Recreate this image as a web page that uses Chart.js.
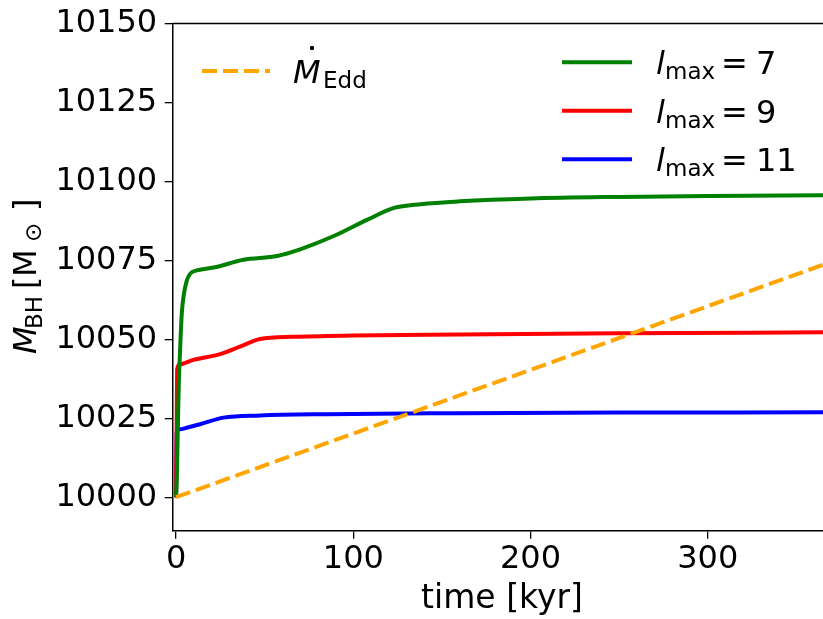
<!DOCTYPE html>
<html lang="en">
<head>
<meta charset="UTF-8" />
<title>Black hole mass growth</title>
<script src="https://cdn.jsdelivr.net/npm/chart.js"></script>
<style>
  html, body { margin: 0; padding: 0; background: #fff; }
  #wrap { width: 823px; height: 619px; }
</style>
</head>
<body>
<div id="wrap"><canvas id="massChart" width="823" height="619"></canvas></div>
<script>
  // time [kyr] and M_BH [Msun]
  const timeEdd = [0, 365];
  const massEdd = [10000, 10073.6];

  const time7 = [0, 0.5, 1, 1.5, 2.3, 3.2, 4.2, 6, 8, 11.7, 22, 38, 57, 70, 89, 108, 123, 138, 160, 200, 250, 300, 365];
  const mass7 = [10000, 10008, 10022, 10035, 10047, 10058, 10063.5, 10068.5, 10070.8, 10071.8, 10072.8, 10075.2, 10076.4, 10078.5, 10082.7, 10087.9, 10091.6, 10092.8, 10093.7, 10094.6, 10095.1, 10095.4, 10095.6];

  const time9 = [0, 0.3, 0.6, 2, 9.8, 24.8, 36, 47.4, 66, 100, 160, 250, 365];
  const mass9 = [10000, 10020, 10040.5, 10042, 10043.5, 10045.3, 10047.7, 10050.1, 10050.8, 10051.2, 10051.5, 10051.9, 10052.2];

  const time11 = [0, 0.3, 2, 6, 13.5, 26.7, 47.4, 85, 160, 250, 365];
  const mass11 = [10000, 10020.5, 10021.5, 10022, 10023.1, 10025.2, 10025.9, 10026.3, 10026.6, 10026.8, 10026.9];

  const xTicks = [0, 100, 200, 300];
  const yTicks = [10000, 10025, 10050, 10075, 10100, 10125, 10150];

  const seriesNames = ['7', '9', '11'];
  const FONT = 'DejaVu Sans';
  const BIG = '32px ' + FONT;
  const SUB = '23px ' + FONT;

  function toPoints(xs, ys) {
    return xs.map((x, i) => ({ x: x, y: ys[i] }));
  }

  // matplotlib-like pieces drawn by hand: top spine, both legends, axis titles
  const decorations = {
    id: 'decorations',
    afterDraw(chart) {
      const ctx = chart.ctx;
      const area = chart.chartArea;
      const ds = chart.data.datasets;
      ctx.save();

      // top spine
      ctx.strokeStyle = '#000';
      ctx.lineWidth = 1.5;
      ctx.beginPath();
      ctx.moveTo(area.left, area.top);
      ctx.lineTo(chart.width, area.top);
      ctx.stroke();

      ctx.fillStyle = '#000';
      ctx.textBaseline = 'alphabetic';
      ctx.textAlign = 'left';

      // Eddington legend (upper left)
      ctx.strokeStyle = ds[0].borderColor;
      ctx.lineWidth = ds[0].borderWidth;
      ctx.setLineDash(ds[0].borderDash);
      ctx.beginPath();
      ctx.moveTo(202, 71);
      ctx.lineTo(270, 71);
      ctx.stroke();
      ctx.setLineDash([]);

      ctx.font = 'italic ' + BIG;
      ctx.fillText('M', 293, 83);
      ctx.beginPath();
      ctx.arc(312, 48, 2.2, 0, Math.PI * 2);
      ctx.fill();
      ctx.font = SUB;
      ctx.fillText('Edd', 323, 88);

      // l_max legend (upper right)
      for (let i = 0; i < 3; i++) {
        const d = ds[i + 1];
        const yy = 62.3 + i * 48.5;
        ctx.strokeStyle = d.borderColor;
        ctx.lineWidth = d.borderWidth;
        ctx.beginPath();
        ctx.moveTo(562, yy);
        ctx.lineTo(632, yy);
        ctx.stroke();

        ctx.font = 'italic ' + BIG;
        ctx.fillText('l', 656, yy + 12);
        ctx.font = SUB;
        ctx.fillText('max', 665, yy + 17);
        ctx.font = BIG;
        ctx.fillText('=', 721, yy + 12);
        ctx.fillText(seriesNames[i], 756, yy + 12);
      }

      // x title
      ctx.font = '33px ' + FONT;
      ctx.textAlign = 'center';
      ctx.fillText('time [kyr]', 502, 608);

      // y title, rotated; offsets are distances along the text direction
      ctx.textAlign = 'left';
      const parts = [
        { t: 'M', f: 'italic ' + BIG, at: 0, dy: 0 },
        { t: 'BH', f: SUB, at: 25, dy: 6 },
        { t: '[', f: BIG, at: 65, dy: 0 },
        { t: 'M', f: BIG, at: 77, dy: 0 },
        { t: '\u2299', f: SUB, at: 112, dy: 5 },
        { t: ']', f: BIG, at: 143, dy: 0 }
      ];
      ctx.translate(36, 354);
      ctx.rotate(-Math.PI / 2);
      parts.forEach(p => {
        ctx.font = p.f;
        ctx.fillText(p.t, p.at, p.dy);
      });

      ctx.restore();
    }
  };

  const ctx = document.getElementById('massChart').getContext('2d');
  new Chart(ctx, {
    type: 'line',
    data: {
      datasets: [
        {
          label: 'Edd',
          data: toPoints(timeEdd, massEdd),
          borderColor: '#ffa500',
          borderWidth: 4,
          borderDash: [15, 6],
          pointRadius: 0
        },
        {
          label: 'lmax = 7',
          data: toPoints(time7, mass7),
          borderColor: '#008000',
          borderWidth: 4,
          pointRadius: 0,
          cubicInterpolationMode: 'monotone'
        },
        {
          label: 'lmax = 9',
          data: toPoints(time9, mass9),
          borderColor: '#ff0000',
          borderWidth: 4,
          pointRadius: 0,
          cubicInterpolationMode: 'monotone'
        },
        {
          label: 'lmax = 11',
          data: toPoints(time11, mass11),
          borderColor: '#0000ff',
          borderWidth: 4,
          pointRadius: 0,
          cubicInterpolationMode: 'monotone'
        }
      ]
    },
    options: {
      responsive: false,
      animation: false,
      layout: { padding: { top: 18.5, left: 0, right: 0, bottom: 0 } },
      plugins: {
        legend: { display: false },
        tooltip: { enabled: false }
      },
      scales: {
        x: {
          type: 'linear',
          min: -1.9,
          max: 365,
          afterBuildTicks: s => { s.ticks = xTicks.map(v => ({ value: v })); },
          afterFit: s => { s.height = 88.3; },
          grid: { drawOnChartArea: false, drawTicks: true, tickLength: 8, color: '#000', lineWidth: 1.3 },
          border: { display: true, color: '#000', width: 1.5 },
          ticks: { color: '#000', font: { family: FONT, size: 32 }, padding: 2, maxRotation: 0, callback: v => String(v) }
        },
        y: {
          type: 'linear',
          min: 9989.4,
          max: 10150,
          afterBuildTicks: s => { s.ticks = yTicks.map(v => ({ value: v })); },
          afterFit: s => { s.width = 172.7; },
          grid: { drawOnChartArea: false, drawTicks: true, tickLength: 8, color: '#000', lineWidth: 1.3 },
          border: { display: true, color: '#000', width: 1.5 },
          ticks: { color: '#000', font: { family: FONT, size: 32, lineHeight: 1 }, padding: 7.5, callback: v => String(v) }
        }
      }
    },
    plugins: [decorations]
  });
</script>
</body>
</html>
